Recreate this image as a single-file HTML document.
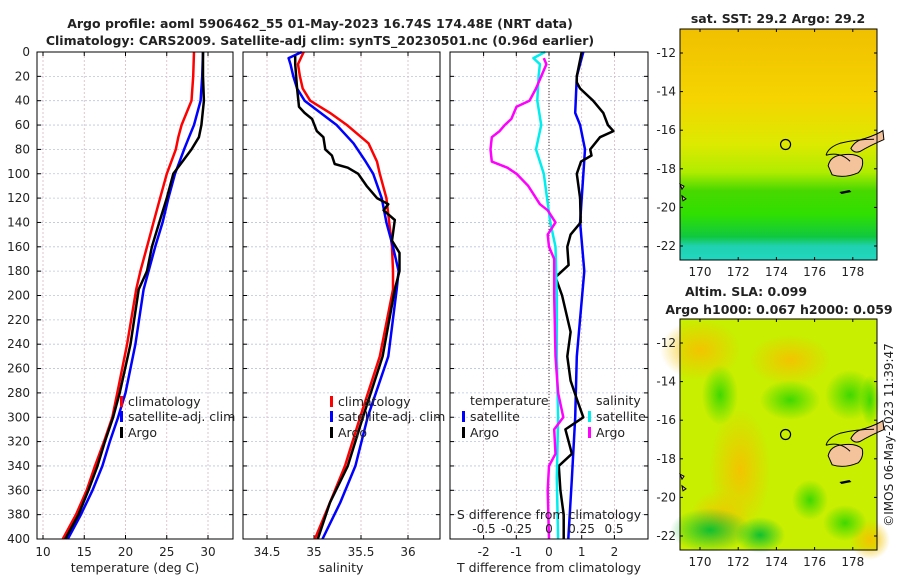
<!DOCTYPE html>
<html><head><meta charset="utf-8"><style>
body{margin:0;background:#fff}
svg{display:block;font-family:"DejaVu Sans","Liberation Sans",sans-serif}
text{fill:#222}
</style></head><body>
<svg id="chart" width="900" height="580" viewBox="0 0 900 580">
<defs>
<linearGradient id="sstgrad" x1="0" y1="0" x2="0" y2="1">
<stop offset="0" stop-color="#f0c000"/><stop offset="0.3" stop-color="#f5d400"/><stop offset="0.5" stop-color="#dcea00"/><stop offset="0.62" stop-color="#b0ec00"/><stop offset="0.7" stop-color="#48d800"/><stop offset="0.8" stop-color="#30e000"/><stop offset="0.9" stop-color="#10c840"/><stop offset="0.94" stop-color="#20d0b0"/><stop offset="1" stop-color="#20d8c0"/>
</linearGradient>
<radialGradient id="orb"><stop offset="0" stop-color="#f2c400"/><stop offset="1" stop-color="#f2c400" stop-opacity="0"/></radialGradient>
<radialGradient id="grb"><stop offset="0" stop-color="#40d800"/><stop offset="1" stop-color="#40d800" stop-opacity="0"/></radialGradient>
<radialGradient id="dgrb"><stop offset="0" stop-color="#10c030"/><stop offset="1" stop-color="#10c030" stop-opacity="0"/></radialGradient>
</defs>
<g id="titles">
<text x="320" y="28" text-anchor="middle" font-size="12.5" font-weight="bold" fill="#000">Argo profile: aoml 5906462_55 01-May-2023 16.74S 174.48E (NRT data)</text>
<text x="320" y="45" text-anchor="middle" font-size="12.5" font-weight="bold" fill="#000">Climatology: CARS2009. Satellite-adj clim: synTS_20230501.nc (0.96d earlier)</text>
</g>
<g id="plots"></g>
<g id="maps"></g>
</svg>
<script>
// ---------- data ----------
const tDepth = [0,20,40,60,70,80,100,120,140,160,180,195,240,280,300,320,340,360,380,400];
const tClim  = [28.3,28.2,28.0,26.8,26.4,26.1,25.0,24.2,23.4,22.6,21.8,21.3,20.2,19.0,18.4,17.4,16.3,15.3,14.0,12.4];
const tSat   = [29.4,29.3,29.1,28.3,27.7,27.1,26.0,25.2,24.5,23.6,22.8,22.2,21.2,20.0,19.1,18.1,17.2,16.0,14.6,13.0];
const tArgo  = [29.4,29.4,29.5,29.2,28.9,28.0,25.8,25.0,24.1,23.2,22.6,21.6,20.6,19.3,18.5,17.5,16.6,15.5,14.3,12.7];
const sDepth = [0,5,10,20,30,40,50,60,75,90,100,120,140,160,180,195,250,300,340,370,400];
const sClim  = [34.89,34.86,34.83,34.85,34.88,34.96,35.17,35.35,35.58,35.67,35.70,35.77,35.80,35.83,35.84,35.84,35.70,35.49,35.33,35.17,35.01];
const sSat   = [34.87,34.73,34.75,34.78,34.82,34.90,35.07,35.24,35.42,35.55,35.63,35.72,35.77,35.84,35.90,35.88,35.79,35.57,35.44,35.28,35.09];
const aDepth = [3,10,30,45,50,55,65,70,80,85,92,95,100,110,120,125,130,138,155,165,180,195,250,300,340,370,400];
const sArgo  = [34.80,34.80,34.82,34.84,34.90,34.98,35.03,35.10,35.12,35.19,35.22,35.36,35.47,35.56,35.67,35.79,35.74,35.86,35.83,35.91,35.91,35.86,35.73,35.52,35.36,35.17,35.04];
const dSatDepth = [0,20,50,60,80,140,180,250,300,350,400];
const dTSat = [1.05,0.85,0.8,0.95,1.1,0.95,1.08,0.85,0.8,0.7,0.59];
const dTDepth = [0,20,25,30,40,50,60,65,70,80,85,90,100,120,140,150,160,175,185,200,230,250,270,285,300,310,330,340,360,380,400];
const dTArgo  = [1.0,0.85,0.85,0.95,1.35,1.66,1.8,1.97,1.56,1.26,1.3,0.98,0.85,0.95,0.97,0.66,0.56,0.6,0.2,0.4,0.66,0.56,0.66,0.85,1.05,0.5,0.7,0.3,0.35,0.45,0.45];
const dSDepthSat = [0,5,10,20,40,60,80,100,140,160,200,250,300,350,400];
const dSSat = [-0.03,-0.12,-0.07,-0.08,-0.09,-0.06,-0.10,-0.04,0.01,0.05,0.06,0.06,0.07,0.06,0.07];
const dSDepthArgo = [5,10,30,40,45,50,55,60,65,70,80,90,95,100,110,120,125,130,140,150,160,170,180,200,250,280,300,310,330,340,360,400];
const dSArgo = [-0.04,-0.02,-0.1,-0.15,-0.25,-0.27,-0.29,-0.34,-0.38,-0.44,-0.45,-0.44,-0.32,-0.25,-0.16,-0.1,-0.07,-0.01,0.05,-0.01,0.0,0.04,0.04,0.04,0.05,0.07,0.11,0.04,0.05,0.0,-0.01,0.0];
const depthTicks = [0,20,40,60,80,100,120,140,160,180,200,220,240,260,280,300,320,340,360,380,400];
const tTicks = [10,15,20,25,30];
const sTicks = [34.5,35,35.5,36];
const dTTicks = [-2,-1,0,1,2];
const dSTicks = [-0.5,-0.25,0,0.25,0.5];
const latTicks = [-12,-14,-16,-18,-20,-22];
const lonTicks = [170,172,174,176,178];

// ---------- scales ----------
const NS='http://www.w3.org/2000/svg';
const y = d => 52 + d*487/400;
const xT = v => 43 + (v-10)*8.25;
const xS = v => 267 + (v-34.5)*94;
const xDT = v => 549 + v*32.7;
const xDS = v => 549 + v*130;
function el(tag, attrs, parent, txt){const e=document.createElementNS(NS,tag);for(const k in attrs)e.setAttribute(k,attrs[k]);if(txt!==undefined)e.textContent=txt;parent.appendChild(e);return e;}
const plots=document.getElementById('plots');

const panels=[{x0:37,x1:233,name:'temperature-panel'},{x0:243,x1:440,name:'salinity-panel'},{x0:450,x1:648,name:'difference-panel'}];
panels.forEach((p,i)=>{
  const g=el('g',{},plots);
  
  
  depthTicks.forEach(d=>{
    const l=el('line',{x1:p.x0,x2:p.x1,y1:y(d),y2:y(d),stroke:'#b8c4e0','stroke-width':0.8,'stroke-dasharray':'2,2'},g);
    
    
    el('line',{x1:p.x0,x2:p.x0+4,y1:y(d),y2:y(d),stroke:'#000'},g);
    el('line',{x1:p.x1-4,x2:p.x1,y1:y(d),y2:y(d),stroke:'#000'},g);
  });
  const ticks = i==0?tTicks:i==1?sTicks:dTTicks;
  const fx = i==0?xT:i==1?xS:xDT;
  ticks.forEach(t=>{
    const l=el('line',{x1:fx(t),x2:fx(t),y1:52,y2:539,stroke:'#d8b8c0','stroke-width':0.8,'stroke-dasharray':'2,2'},g);
    
    
    el('line',{x1:fx(t),x2:fx(t),y1:535,y2:539,stroke:'#000'},g);
    el('line',{x1:fx(t),x2:fx(t),y1:52,y2:56,stroke:'#000'},g);
    const tx=el('text',{x:fx(t),y:556,'text-anchor':'middle','font-size':12},g,String(t));
    
    
  });
});
depthTicks.forEach(d=>{
  const t=el('text',{x:30,y:y(d)+4,'text-anchor':'end','font-size':12},plots,String(d));
  
  
});
el('line',{x1:549,x2:549,y1:52,y2:539,stroke:'#333','stroke-width':1,'stroke-dasharray':'1,2'},plots);

function line(xs, ds, fx, color, name, w){
  const pts=xs.map((v,i)=>fx(v).toFixed(1)+','+y(ds[i]).toFixed(1)).join(' ');
  const pl=el('polyline',{points:pts,fill:'none',stroke:color,'stroke-width':w||2.5,'stroke-linejoin':'round'},plots);
  
  
}
line(tClim,tDepth,xT,'#ff0000','temp-climatology-line');
line(tSat,tDepth,xT,'#0000ff','temp-satellite-line');
line(tArgo,tDepth,xT,'#000000','temp-argo-line');
line(sClim,sDepth,xS,'#ff0000','sal-climatology-line');
line(sSat,sDepth,xS,'#0000ff','sal-satellite-line');
line(sArgo,aDepth,xS,'#000000','sal-argo-line');
line(dTSat,dSatDepth,xDT,'#0000ff','tdiff-satellite-line');
line(dTArgo,dTDepth,xDT,'#000000','tdiff-argo-line');
line(dSSat,dSDepthSat,xDS,'#00eeee','sdiff-satellite-line');
line(dSArgo,dSDepthArgo,xDS,'#ff00ff','sdiff-argo-line');

panels.forEach(p=>{el('rect',{x:p.x0,y:52,width:p.x1-p.x0,height:487,fill:'none',stroke:'#000','stroke-width':1},plots);});

el('text',{x:549,y:519,'text-anchor':'middle','font-size':12.5},plots,'S difference from climatology');
dSTicks.forEach(t=>{
  const tx=el('text',{x:xDS(t),y:533,'text-anchor':'middle','font-size':12},plots,String(t));
  
  
});
[['temperature (deg C)',135],['salinity',341],['T difference from climatology',549]].forEach(a=>{
  const t=el('text',{x:a[1],y:572,'text-anchor':'middle','font-size':12.5},plots,a[0]);
  
  
});
function legend(x,yy,color,label){
  const g=el('g',{},plots);
  
  
  el('rect',{x:x,y:yy-9,width:3,height:11,fill:color},g);
  el('text',{x:x+8,y:yy+1,'font-size':12.5},g,label);
}
[[120,'#ff0000','climatology',405],[120,'#0000ff','satellite-adj. clim',420],[120,'#000','Argo',436]].forEach(a=>legend(a[0],a[3],a[1],a[2]));
[[330,'#ff0000','climatology',405],[330,'#0000ff','satellite-adj. clim',420],[330,'#000','Argo',436]].forEach(a=>legend(a[0],a[3],a[1],a[2]));
el('text',{x:470,y:405,'font-size':12.5},plots,'temperature');
legend(462,420,'#0000ff','satellite');
legend(462,436,'#000','Argo');
el('text',{x:596,y:405,'font-size':12.5},plots,'salinity');
legend(588,420,'#00eeee','satellite');
legend(588,436,'#ff00ff','Argo');

// ---------- maps ----------
const maps=document.getElementById('maps');
const mX0=680,mX1=877;
const lonX = lo => 700 + (lo-170)*19.1;
function drawMap(top,bottom,name,fill){
  const latY = la => top + 24 + (-12-la)*19.3;
  const g=el('g',{},maps);
  
  
  el('rect',{x:mX0,y:top,width:mX1-mX0,height:bottom-top,fill:fill},g);
  if(name==='sla-map'){
    const blobs=[[700,350,40,30,'orb'],[740,470,30,60,'orb'],[720,520,30,30,'orb'],[790,360,40,25,'orb'],[870,540,20,20,'orb'],
      [720,395,18,30,'grb'],[790,400,30,20,'grb'],[850,395,25,25,'grb'],[810,500,18,20,'grb'],[845,523,22,18,'grb'],[710,530,40,22,'dgrb'],[760,535,25,18,'dgrb'],[870,400,10,25,'grb']];
    blobs.forEach(b=>el('ellipse',{cx:b[0],cy:b[1],rx:b[2],ry:b[3],fill:'url(#'+b[4]+')'},g));
  }
  const ix=lonX(177.6), iy=latY(-17.95);
  el('path',{d:`M${ix-17} ${iy-2} q2 -10 14 -11 q14 -2 20 4 q2 8 -4 14 q-14 6 -26 2 z`,fill:'#f5c39b',stroke:'#000','stroke-width':1},g);
  el('path',{d:`M${lonX(177.9)} ${latY(-16.95)} q4 -8 14 -10 q12 -4 18 -8 l1 9 q-14 6 -24 12 q-6 2 -9 -3 z`,fill:'#f5c39b',stroke:'#000','stroke-width':1},g);
  el('path',{d:`M${lonX(176.6)} ${latY(-17.3)} q2 -8 14 -12 q16 -4 34 -4`,fill:'none',stroke:'#000','stroke-width':1},g);
  el('path',{d:`M${lonX(176.6)} ${latY(-17.3)} q14 -4 24 6`,fill:'none',stroke:'#000','stroke-width':1},g);
  el('path',{d:`M${lonX(177.3)} ${latY(-19.2)} l10 -2 2 2 -10 2 z`,fill:'#000'},g);
  el('path',{d:`M${mX0} ${latY(-18.8)} l4 2 -2 3 z M${mX0+2} ${latY(-19.4)} l4 3 -3 2 z`,fill:'#f5c39b',stroke:'#000',"stroke-width":1},g);
  el('circle',{cx:lonX(174.48),cy:latY(-16.74),r:5,fill:'none',stroke:'#000','stroke-width':1.2},g);
  el('rect',{x:mX0,y:top,width:mX1-mX0,height:bottom-top,fill:'none',stroke:'#000'},g);
  latTicks.forEach(la=>{
    el('line',{x1:mX0,x2:mX0+3,y1:latY(la),y2:latY(la),stroke:'#000'},g);
    el('line',{x1:mX1-3,x2:mX1,y1:latY(la),y2:latY(la),stroke:'#000'},g);
    const t=el('text',{x:676,y:latY(la)+4,'text-anchor':'end','font-size':12},g,String(la));
    
    
  });
  lonTicks.forEach(lo=>{
    el('line',{x1:lonX(lo),x2:lonX(lo),y1:bottom-3,y2:bottom,stroke:'#000'},g);
    el('line',{x1:lonX(lo),x2:lonX(lo),y1:top,y2:top+3,stroke:'#000'},g);
    const t=el('text',{x:lonX(lo),y:bottom+16,'text-anchor':'middle','font-size':12},g,String(lo));
    
    
  });
}
drawMap(29,260,'sst-map','url(#sstgrad)');
drawMap(319,550,'sla-map','#c8ee00');
el('text',{x:778,y:23,'text-anchor':'middle','font-size':12.5,'font-weight':'bold',fill:'#000'},maps,'sat. SST: 29.2 Argo: 29.2');
el('text',{x:746,y:296,'text-anchor':'middle','font-size':12.5,'font-weight':'bold',fill:'#000'},maps,'Altim. SLA: 0.099');
el('text',{x:779,y:314,'text-anchor':'middle','font-size':12.5,'font-weight':'bold',fill:'#000'},maps,'Argo h1000: 0.067 h2000: 0.059');
el('text',{x:0,y:0,'text-anchor':'middle','font-size':12,transform:'translate(893,435) rotate(-90)'},maps,'©IMOS 06-May-2023 11:39:47');
</script>
</body></html>
